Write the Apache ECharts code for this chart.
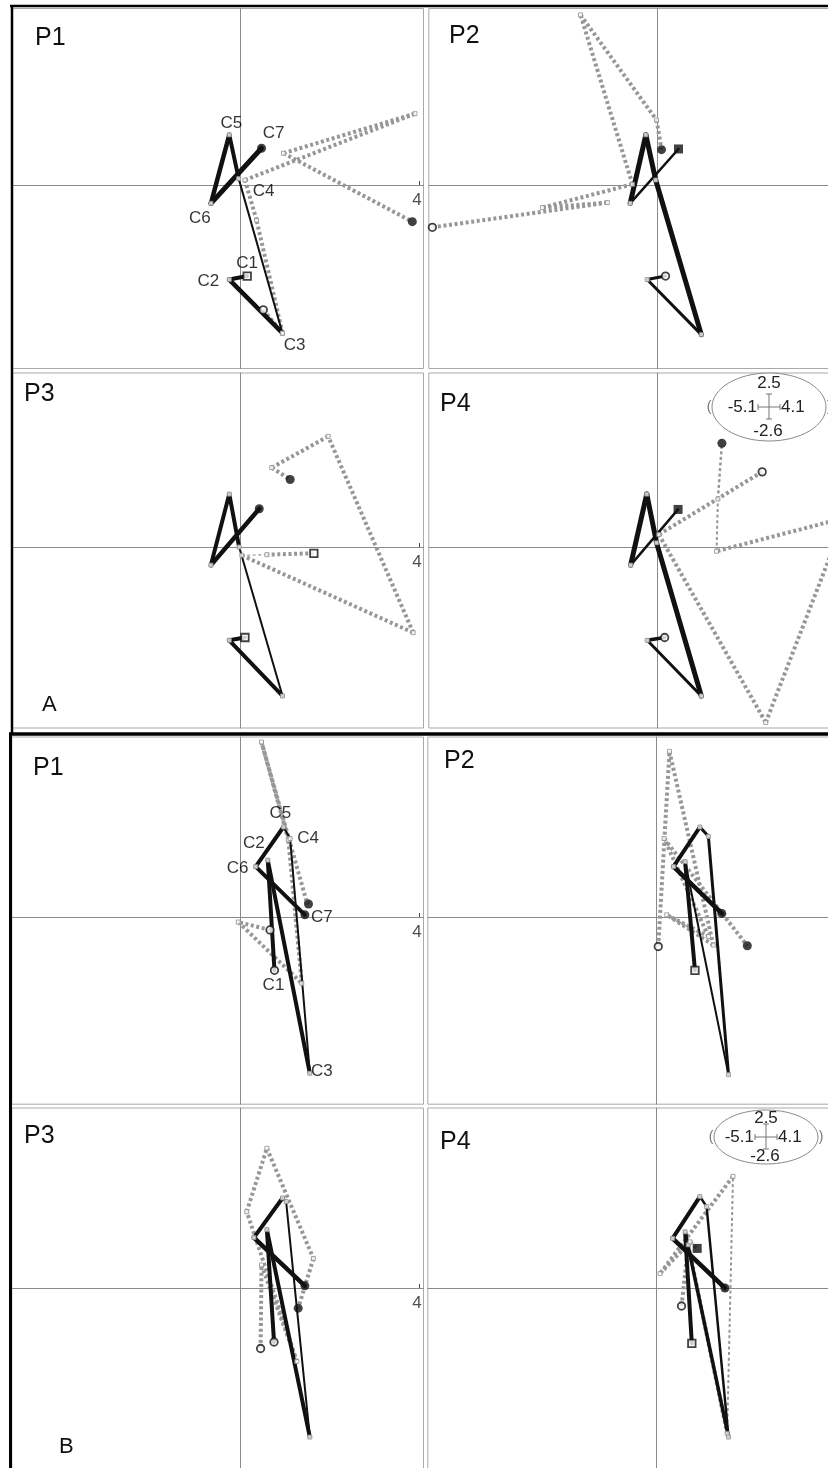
<!DOCTYPE html>
<html>
<head>
<meta charset="utf-8">
<script src="https://cdn.jsdelivr.net/npm/echarts@6/dist/echarts.min.js"></script>
<style>
  html, body { margin: 0; padding: 0; background: #ffffff; }
  #chart { width: 828px; height: 1468px; }
</style>
</head>
<body>
<div id="chart"></div>
<script>
// ---- shared axis setup ----
const pointNames = ['C1', 'C2', 'C3', 'C4', 'C5', 'C6', 'C7'];
const xRange = [-5.1, 4.1];
const yRange = [-2.6, 2.5];
const xTickValues = [4];
const scaleTop = '2.5', scaleLeft = '-5.1', scaleRight = '4.1', scaleBottom = '-2.6';

// ---- group A: trajectories (x, y) for C1..C7 ----
const A1_black = [[0.16, -1.29], [-0.24, -1.34], [0.95, -2.10], [-0.03, 0.09], [-0.24, 0.71], [-0.65, -0.26], [0.48, 0.52]];
const A1_gray  = [[0.52, -1.77], [0.95, -2.10], [0.37, -0.50], [0.11, 0.07], [3.91, 1.01], [0.97, 0.45], [3.85, -0.52]];

const A2_black = [[0.19, -1.29], [-0.22, -1.34], [0.99, -2.12], [-0.03, 0.07], [-0.25, 0.71], [-0.60, -0.26], [0.48, 0.51]];
const A2_gray  = [[-5.02, -0.60], [-1.11, -0.25], [-2.56, -0.32], [-0.55, 0.01], [-1.71, 2.41], [-0.01, 0.92], [0.10, 0.50]];

const A3_black = [[0.11, -1.30], [-0.24, -1.34], [0.95, -2.14], [-0.02, 0.00], [-0.24, 0.76], [-0.65, -0.26], [0.43, 0.55]];
const A3_gray  = [[1.65, -0.09], [0.60, -0.11], [0.04, -0.12], [3.87, -1.23], [1.97, 1.59], [0.71, 1.14], [1.12, 0.97]];

const A4_black = [[0.17, -1.30], [-0.22, -1.34], [0.99, -2.14], [-0.01, 0.06], [-0.23, 0.76], [-0.59, -0.26], [0.47, 0.54]];
const A4_gray  = [[2.35, 1.08], [0.04, 0.18], [2.43, -2.52], [4.20, 0.42], [1.33, -0.06], [1.36, 0.69], [1.45, 1.49]];

// ---- group B ----
const B1_black = [[0.77, -0.74], [0.62, 0.79], [1.56, -2.17], [1.12, 1.09], [0.97, 1.25], [0.35, 0.70], [1.45, 0.03]];
const B1_gray  = [[0.67, -0.18], [-0.04, -0.07], [1.38, -0.92], [1.08, 1.07], [0.48, 2.43], [1.49, 0.21], [1.53, 0.18]];

const B2_black = [[0.87, -0.74], [0.65, 0.77], [1.62, -2.19], [1.17, 1.12], [0.98, 1.25], [0.39, 0.70], [1.47, 0.05]];
const B2_gray  = [[0.05, -0.41], [0.30, 2.30], [1.28, -0.39], [0.24, 0.03], [1.17, -0.27], [0.18, 1.09], [2.04, -0.40]];

const B3_black = [[0.76, -0.75], [0.60, 0.81], [1.56, -2.07], [1.03, 1.20], [0.95, 1.25], [0.31, 0.70], [1.45, 0.03]];
const B3_gray  = [[0.46, -0.84], [0.48, 0.32], [1.27, -1.02], [0.15, 1.06], [0.60, 1.94], [1.64, 0.41], [1.30, -0.28]];

const B4_black = [[0.80, -0.77], [0.65, 0.78], [1.62, -2.07], [1.13, 1.13], [0.98, 1.27], [0.37, 0.69], [1.54, 0.00]];
const B4_gray  = [[0.57, -0.25], [0.72, 0.60], [1.59, -2.02], [1.72, 1.55], [0.09, 0.20], [0.76, 0.64], [0.92, 0.55]];

// ---- segment stroke widths (style) ----
const A1_blackW = [4, 4.5, 2, 4, 4.5, 5],     A1_grayW = [4, 4, 4, 4, 4, 4];
const A2_blackW = [3, 3, 5, 5, 5, 2.5],       A2_grayW = [4, 4, 4, 4, 4, 4];
const A3_blackW = [4, 4, 2, 4, 4, 4.5],       A3_grayW = [4, 1.2, 4, 4, 4, 4];
const A4_blackW = [3.5, 3, 5, 5, 5, 2.5],     A4_grayW = [4, 4, 4, 4, 2, 2.5];
const B1_blackW = [4, 4, 2, 2, 4, 4],         B1_grayW = [4, 4, 4, 4, 4, 4];
const B2_blackW = [4, 2, 3, 3, 4, 4.5],       B2_grayW = [4, 4, 4, 4, 4, 4];
const B3_blackW = [4, 4, 2, 2.5, 4, 4.5],     B3_grayW = [4, 4, 4, 4, 4, 4];
const B4_blackW = [4, 3.5, 2.5, 2.5, 4, 4.5], B4_grayW = [4, 4, 2, 4, 4, 4];

// label offsets (px) for the C1..C7 names in the P1 panels
const A1_labelOffsets = [[0, -13], [-21, 2], [12, 12], [25, 13], [2, -12], [-11, 15], [12, -15]];
const B1_labelOffsets = [[-1, 15], [-14, -17], [12, -2], [18, 0], [-3, -14], [-18, 2], [17, 2]];

const FONT = '"Liberation Sans", Arial, sans-serif';
const BLACK = '#111111';
const GRAY = '#979797';

// box: [left, top, width, height]; shapes: [black start, black end, gray start, gray end]
const panels = [
  { title: 'P1', black: A1_black, blackW: A1_blackW, gray: A1_gray, grayW: A1_grayW, box: [11.8, 8.5, 411.7, 360], shapes: ['rect', 'circle', 'circle', 'circle'], labels: A1_labelOffsets },
  { title: 'P2', black: A2_black, blackW: A2_blackW, gray: A2_gray, grayW: A2_grayW, box: [428.8, 8.5, 411.7, 360], shapes: ['circle', 'rect', 'circle', 'circle'] },
  { title: 'P3', black: A3_black, blackW: A3_blackW, gray: A3_gray, grayW: A3_grayW, box: [11.8, 373, 411.7, 355], shapes: ['rect', 'circle', 'rect', 'circle'] },
  { title: 'P4', black: A4_black, blackW: A4_blackW, gray: A4_gray, grayW: A4_grayW, box: [428.8, 373, 411.7, 355], shapes: ['circle', 'rect', 'circle', 'circle'] },
  { title: 'P1', black: B1_black, blackW: B1_blackW, gray: B1_gray, grayW: B1_grayW, box: [11.8, 737, 411.7, 367.2], shapes: ['circle', 'circle', 'circle', 'circle'], labels: B1_labelOffsets },
  { title: 'P2', black: B2_black, blackW: B2_blackW, gray: B2_gray, grayW: B2_grayW, box: [427.8, 737, 411.7, 367.2], shapes: ['rect', 'circle', 'circle', 'circle'] },
  { title: 'P3', black: B3_black, blackW: B3_blackW, gray: B3_gray, grayW: B3_grayW, box: [11.8, 1108, 411.7, 367.2], shapes: ['circle', 'circle', 'circle', 'circle'] },
  { title: 'P4', black: B4_black, blackW: B4_blackW, gray: B4_gray, grayW: B4_grayW, box: [427.8, 1108, 411.7, 367.2], shapes: ['rect', 'circle', 'circle', 'rect'] }
];

const grid = [], xAxis = [], yAxis = [], series = [];

function addSegments(i, pts, widths, color, dashed, z) {
  for (let k = 0; k < pts.length - 1; k++) {
    series.push({
      type: 'line', xAxisIndex: i, yAxisIndex: i, z: z, silent: true,
      data: [pts[k], pts[k + 1]], symbol: 'none',
      lineStyle: {
        color: color, width: widths[k],
        type: dashed ? [3, 2.6] : 'solid',
        cap: dashed ? 'butt' : 'round', join: 'round'
      }
    });
  }
}

function addMarker(i, pt, shape, filled, z) {
  series.push({
    type: 'scatter', xAxisIndex: i, yAxisIndex: i, z: z, silent: true,
    data: [pt], symbol: shape, symbolSize: filled ? 9 : 7.5,
    itemStyle: filled ? { color: '#111' } : { color: '#ffffff', borderColor: '#111', borderWidth: 1.8 }
  });
}

panels.forEach((p, i) => {
  grid.push({
    left: p.box[0], top: p.box[1], width: p.box[2], height: p.box[3],
    outerBoundsMode: 'none', containLabel: false,
    show: true, borderColor: '#a9a9a9', borderWidth: 1
  });
  xAxis.push({
    gridIndex: i, type: 'value', min: xRange[0], max: xRange[1],
    axisLine: { onZero: true, lineStyle: { color: '#8a8a8a', width: 1 } },
    axisTick: { show: true, customValues: xTickValues, length: 4, inside: true, lineStyle: { color: '#444' } },
    axisLabel: { show: false },
    splitLine: { show: false }
  });
  yAxis.push({
    gridIndex: i, type: 'value', min: yRange[0], max: yRange[1],
    axisLine: { onZero: true, lineStyle: { color: '#8a8a8a', width: 1 } },
    axisTick: { show: false }, axisLabel: { show: false }, splitLine: { show: false }
  });

  // gray dotted trajectory underneath, black trajectory on top
  addSegments(i, p.gray, p.grayW, GRAY, true, 2);
  addSegments(i, p.black, p.blackW, BLACK, false, 3);

  // small open squares at intermediate vertices
  series.push({
    type: 'scatter', xAxisIndex: i, yAxisIndex: i, z: 4, silent: true,
    data: p.gray.slice(1, -1).concat(p.black.slice(1, -1)),
    symbol: 'rect', symbolSize: 4,
    itemStyle: { color: '#ffffff', borderColor: '#8f8f8f', borderWidth: 1 }
  });

  addMarker(i, p.black[0], p.shapes[0], false, 5);
  addMarker(i, p.black[p.black.length - 1], p.shapes[1], true, 5);
  addMarker(i, p.gray[0], p.shapes[2], false, 5);
  addMarker(i, p.gray[p.gray.length - 1], p.shapes[3], true, 5);

  // tick label on the horizontal axis line
  series.push({
    type: 'scatter', xAxisIndex: i, yAxisIndex: i, z: 6, silent: true,
    symbolSize: 1, itemStyle: { color: 'rgba(0,0,0,0)' },
    data: xTickValues.map(v => [v, 0]),
    label: {
      show: true, position: 'inside', offset: [-2, 15], color: '#222', fontSize: 17, fontFamily: FONT,
      formatter: (d) => String(xTickValues[d.dataIndex])
    }
  });

  if (p.labels) {
    series.push({
      type: 'scatter', xAxisIndex: i, yAxisIndex: i, z: 6, silent: true,
      symbolSize: 1, itemStyle: { color: 'rgba(0,0,0,0)' },
      data: p.black.map((pt, k) => ({ value: pt, label: { offset: p.labels[k] } })),
      label: {
        show: true, position: 'inside', color: '#000', fontSize: 17, fontFamily: FONT,
        formatter: (d) => pointNames[d.dataIndex]
      }
    });
  }
});

// ---- annotations: frames, panel names, group letters, scale keys ----
const graphic = [];
function line(x1, y1, x2, y2, w, color) {
  graphic.push({ type: 'line', silent: true, z: 100, shape: { x1, y1, x2, y2 }, style: { stroke: color || '#000', lineWidth: w } });
}
function text(t, x, y, size, align, color) {
  graphic.push({ type: 'text', silent: true, z: 100, x, y, style: { text: t, fontSize: size, fontFamily: FONT, fill: color || '#111', align: align || 'left', verticalAlign: 'middle' } });
}

line(10, 6, 828, 6, 2.5);
line(12, 5, 12, 734, 2.5);
line(9, 734, 828, 734, 3.5);
line(10.5, 733, 10.5, 1468, 3);

const titlePos = [[35, 38], [449, 36], [24, 394], [440, 404], [33, 768], [444, 761], [24, 1136], [440, 1142]];
panels.forEach((p, i) => text(p.title, titlePos[i][0], titlePos[i][1], 25, 'left'));
text('A', 42, 705, 22, 'left');
text('B', 59, 1447, 22, 'left');

function scaleKey(cx, cy, rx, ry, dy) {
  graphic.push({ type: 'ellipse', silent: true, z: 100, shape: { cx, cy, rx, ry }, style: { fill: '#ffffff', stroke: '#8a8a8a', lineWidth: 1 } });
  text(scaleTop, cx, cy - dy, 17, 'center', '#222');
  text(scaleBottom, cx - 1, cy + dy, 17, 'center', '#222');
  text(scaleLeft, cx - 12, cy, 17, 'right', '#222');
  text(scaleRight, cx + 12, cy, 17, 'left', '#222');
  line(cx, cy - 13, cx, cy + 12, 1, '#777');
  line(cx - 3, cy - 13, cx + 3, cy - 13, 1, '#777');
  line(cx - 3, cy + 12, cx + 3, cy + 12, 1, '#777');
  line(cx - 11, cy, cx + 11, cy, 1, '#777');
  line(cx - 11, cy - 3, cx - 11, cy + 3, 1, '#777');
  line(cx + 11, cy - 3, cx + 11, cy + 3, 1, '#777');
  text('(', cx - rx - 3, cy, 14, 'center', '#777');
  text(')', cx + rx + 3, cy, 14, 'center', '#777');
}
scaleKey(769, 407, 57, 34, 24);
scaleKey(766, 1137, 52, 27, 19);

const chart = echarts.init(document.getElementById('chart'), null, { renderer: 'canvas' });
chart.setOption({
  animation: false,
  backgroundColor: '#ffffff',
  grid, xAxis, yAxis, series, graphic
});
</script>
</body>
</html>
